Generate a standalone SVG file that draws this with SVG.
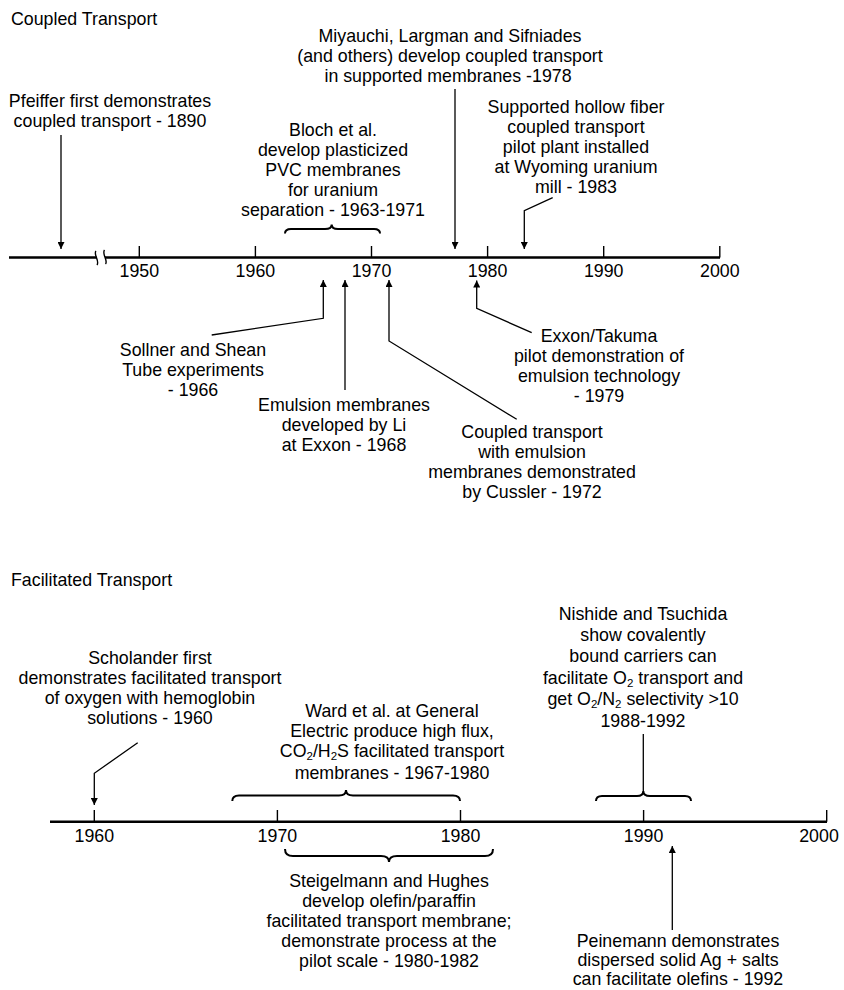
<svg xmlns="http://www.w3.org/2000/svg" width="844" height="990" viewBox="0 0 844 990">
<defs>
<marker id="ah" viewBox="0 0 10 10" refX="10" refY="5" markerWidth="9" markerHeight="7" markerUnits="userSpaceOnUse" orient="auto">
<path d="M0,0 L10,5 L0,10 z" fill="#000"/>
</marker>
<style>
text{font-family:"Liberation Sans",Arial,Helvetica,sans-serif;font-size:17.8px;fill:#000}
.c{text-anchor:middle}
.ax{stroke:#000;stroke-width:2.6;fill:none}
.tk{stroke:#000;stroke-width:1.4;fill:none}
.ld{stroke:#000;stroke-width:1.3;fill:none}
.ar{stroke:#000;stroke-width:1.3;fill:none;marker-end:url(#ah)}
.br{stroke:#000;stroke-width:2;fill:none}
.sb{font-size:11.5px}
</style>
</defs>
<rect width="844" height="990" fill="#fff"/>

<!-- Top timeline -->
<g id="title-coupled"><text x="11" y="25">Coupled Transport</text></g>
<g id="axis-top">
<path class="ax" d="M9,257.5 H96.5 M105,257.5 H720"/>
<path class="tk" d="M96,251 C93,254 100,261 97,265 M104.5,250 C101.5,254 108.5,261 105.5,264"/>
<path class="tk" d="M139.3,246 V257.5 M255.4,246 V257.5 M371.5,246 V257.5 M487.6,246 V257.5 M603.7,246 V257.5 M719.8,246 V257.5"/>
<text class="c" x="139.3" y="277">1950</text>
<text class="c" x="255.4" y="277">1960</text>
<text class="c" x="371.5" y="277">1970</text>
<text class="c" x="487.6" y="277">1980</text>
<text class="c" x="603.7" y="277">1990</text>
<text class="c" x="719.8" y="277">2000</text>
</g>

<g id="pfeiffer">
<text class="c" x="110" y="107">Pfeiffer first demonstrates</text>
<text class="c" x="110" y="127">coupled transport - 1890</text>
</g>
<g id="miyauchi">
<text class="c" x="450" y="42">Miyauchi, Largman and Sifniades</text>
<text class="c" x="450" y="62">(and others) develop coupled transport</text>
<text class="c" x="448" y="82">in supported membranes -1978</text>
</g>
<g id="bloch">
<text class="c" x="333" y="136">Bloch et al.</text>
<text class="c" x="333" y="156">develop plasticized</text>
<text class="c" x="333" y="176">PVC membranes</text>
<text class="c" x="333" y="196">for uranium</text>
<text class="c" x="333" y="216">separation - 1963-1971</text>
</g>
<g id="hollow-fiber">
<text class="c" x="576" y="113">Supported hollow fiber</text>
<text class="c" x="576" y="133">coupled transport</text>
<text class="c" x="576" y="153">pilot plant installed</text>
<text class="c" x="576" y="173">at Wyoming uranium</text>
<text class="c" x="576" y="193">mill - 1983</text>
</g>
<g id="sollner">
<text class="c" x="193" y="356">Sollner and Shean</text>
<text class="c" x="193" y="376">Tube experiments</text>
<text class="c" x="193" y="396">- 1966</text>
</g>
<g id="emulsion-li">
<text class="c" x="344" y="411">Emulsion membranes</text>
<text class="c" x="344" y="431">developed by Li</text>
<text class="c" x="344" y="451">at Exxon - 1968</text>
</g>
<g id="cussler">
<text class="c" x="532" y="438">Coupled transport</text>
<text class="c" x="532" y="458">with emulsion</text>
<text class="c" x="532" y="478">membranes demonstrated</text>
<text class="c" x="532" y="498">by Cussler - 1972</text>
</g>
<g id="exxon-takuma">
<text class="c" x="599" y="342">Exxon/Takuma</text>
<text class="c" x="599" y="362">pilot demonstration of</text>
<text class="c" x="599" y="382">emulsion technology</text>
<text class="c" x="599" y="402">- 1979</text>
</g>

<!-- Bottom timeline -->
<g id="title-facilitated"><text x="11" y="586">Facilitated Transport</text></g>
<g id="axis-bottom">
<path class="ax" d="M50,821.7 H827"/>
<path class="tk" d="M94.3,810 V821.7 M277.4,810 V821.7 M460.5,810 V821.7 M643.6,810 V821.7 M826.7,810 V821.7"/>
<text class="c" x="94.3" y="842">1960</text>
<text class="c" x="277.4" y="842">1970</text>
<text class="c" x="460.5" y="842">1980</text>
<text class="c" x="643.6" y="842">1990</text>
<text class="c" x="819" y="842">2000</text>
</g>

<g id="scholander">
<text class="c" x="150" y="664">Scholander first</text>
<text class="c" x="150" y="684">demonstrates facilitated transport</text>
<text class="c" x="150" y="704">of oxygen with hemoglobin</text>
<text class="c" x="150" y="724">solutions - 1960</text>
</g>
<g id="ward">
<text class="c" x="392" y="717">Ward et al. at General</text>
<text class="c" x="392" y="737">Electric produce high flux,</text>
<text class="c" x="392" y="757">CO<tspan class="sb" dy="3">2</tspan><tspan dy="-3">/H</tspan><tspan class="sb" dy="3">2</tspan><tspan dy="-3">S facilitated transport</tspan></text>
<text class="c" x="392" y="779">membranes - 1967-1980</text>
</g>
<g id="nishide">
<text class="c" x="643" y="620">Nishide and Tsuchida</text>
<text class="c" x="643" y="641">show covalently</text>
<text class="c" x="643" y="662">bound carriers can</text>
<text class="c" x="643" y="684">facilitate O<tspan class="sb" dy="3">2</tspan><tspan dy="-3"> transport and</tspan></text>
<text class="c" x="643" y="705">get O<tspan class="sb" dy="3">2</tspan><tspan dy="-3">/N</tspan><tspan class="sb" dy="3">2</tspan><tspan dy="-3"> selectivity &gt;10</tspan></text>
<text class="c" x="643" y="727">1988-1992</text>
</g>
<g id="steigelmann">
<text class="c" x="389" y="887">Steigelmann and Hughes</text>
<text class="c" x="389" y="907">develop olefin/paraffin</text>
<text class="c" x="389" y="927">facilitated transport membrane;</text>
<text class="c" x="389" y="947">demonstrate process at the</text>
<text class="c" x="389" y="967">pilot scale - 1980-1982</text>
</g>
<g id="peinemann">
<text class="c" x="678" y="947">Peinemann demonstrates</text>
<text class="c" x="678" y="966">dispersed solid Ag + salts</text>
<text class="c" x="678" y="985">can facilitate olefins - 1992</text>
</g>

<g id="connectors">
<!-- top -->
<path class="ar" d="M61,135 V249"/>
<path class="ar" d="M455,89 V249"/>
<path class="ar" d="M552.7,197.7 L524.3,210.7 V249"/>
<path class="br" d="M285,233.5 Q285,229 291,229 L325,229 Q331.7,229 331.7,224.5 Q331.7,229 338,229 L374,229 Q380,229 380,233.5"/>
<path class="ar" d="M211.7,335 L323.3,318.3 V280"/>
<path class="ar" d="M345,390 V280"/>
<path class="ar" d="M516.7,419.3 L389,341 V280"/>
<path class="ar" d="M531.7,332.7 L476.7,308.3 V280.5"/>
<!-- bottom -->
<path class="ar" d="M137.7,742.7 L94.3,773.3 V805"/>
<path class="br" d="M232.3,801 Q232.3,795.5 239,795.5 L339,795.5 Q346,795.5 346,790 Q346,795.5 353,795.5 L453,795.5 Q460,795.5 460,801"/>
<path class="br" d="M596,801 Q596,796 602,796 L637,796 Q643.3,796 643.3,791 Q643.3,796 650,796 L685,796 Q691,796 691,801"/>
<path class="ld" d="M643.3,734 V791"/>
<path class="br" d="M285,849 Q285,856 293,856 L381,856 Q389,856 389,862 Q389,856 397,856 L485,856 Q493,856 493,849"/>
<path class="ar" d="M672.3,930 V846"/>
</g>
</svg>
